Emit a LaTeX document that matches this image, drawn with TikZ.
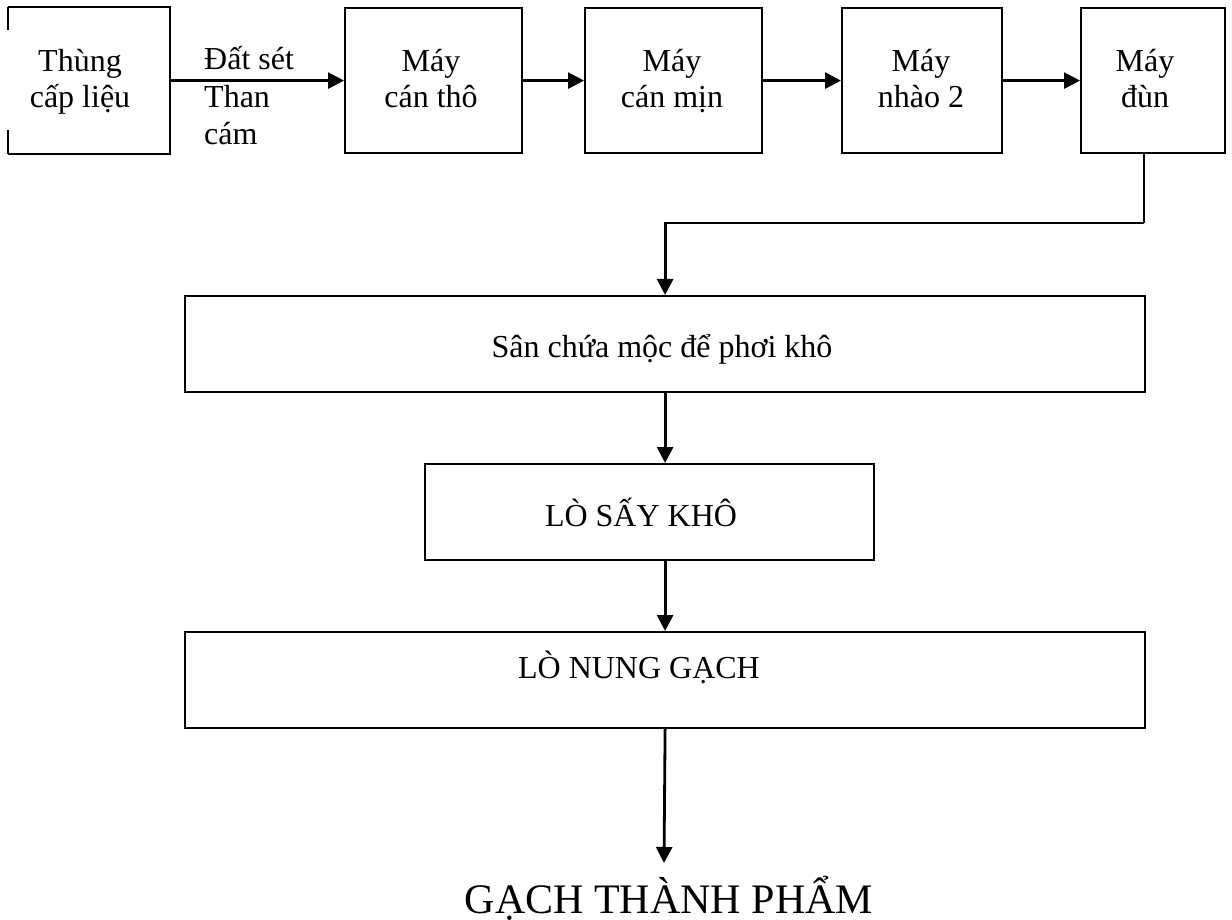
\documentclass[tikz,border=0pt]{standalone}
\usepackage{fontspec}
\setmainfont{Liberation Serif}
\usetikzlibrary{arrows.meta}
\begin{document}
\begin{tikzpicture}[x=1pt,y=-1pt,
  box/.style={draw,line width=2.2pt,inner sep=0pt,anchor=north west},
  txt/.style={inner sep=0pt,anchor=base,align=center,font=\fontsize{32}{36.5}\selectfont},
  flow/.style={line width=2.8pt,-{Triangle[length=16pt,width=16pt]}},
  link/.style={line width=2.2pt}]
\useasboundingbox (0,0) rectangle (1232,920);

% top row of machines (the feed hopper has a broken left side)
\node[box,minimum width=160pt,minimum height=145pt,draw=none] (b1) at (8,7) {};
\draw[link] (b1.north west) -- (b1.north east) -- (b1.south east) -- (b1.south west);
\draw[link] (b1.north west) -- ++(0,23);
\draw[link] (b1.south west) -- ++(0,-24);
\node[box,minimum width=177pt,minimum height=145pt] (b2) at (344,7) {};
\node[box,minimum width=177pt,minimum height=145pt] (b3) at (584,7) {};
\node[box,minimum width=160pt,minimum height=145pt] (b4) at (841,7) {};
\node[box,minimum width=144pt,minimum height=145pt] (b5) at (1080,7) {};

% two-line labels are placed by the baseline of their last line
\node[txt] (t1) at (80,108) {Thùng\\cấp liệu};
\node[txt] (t2) at (431,108) {Máy\\cán thô};
\node[txt] (t3) at (672,108) {Máy\\cán mịn};
\node[txt] (t4) at (921,108) {Máy\\nhào 2};
\node[txt] (t5) at (1145,108) {Máy\\đùn};
\node[txt,align=left,anchor=base west,font=\fontsize{32}{37.5}\selectfont] (mat) at (204,145) {Đất sét\\Than\\cám};

% lower stages
\node[box,minimum width=960pt,minimum height=96pt] (san) at (184,295) {};
\node[box,minimum width=449pt,minimum height=96pt] (say) at (424,463) {};
\node[box,minimum width=960pt,minimum height=96pt] (nung) at (184,631) {};
\node[txt] (tsan) at (662,357) {Sân chứa mộc để phơi khô};
\node[txt] (tsay) at (641,526) {LÒ SẤY KHÔ};
\node[txt] (tnung) at (639,678) {LÒ NUNG GẠCH};
\node[txt,font=\fontsize{42}{48}\selectfont] (sp) at (669,913) {GẠCH THÀNH PHẨM};

% connectors
\coordinate (drop) at (1144,223);
\coordinate (end) at (664,863);
\draw[flow] (b1.east) -- (b2.west);
\draw[flow] (b2.east) -- (b3.west);
\draw[flow] (b3.east) -- (b4.west);
\draw[flow] (b4.east) -- (b5.west);
\draw[link] (b5.south -| drop) -- (drop);
\draw[flow] (drop) -| (san.north);
\draw[flow] (san.south) -- (say.north -| san.south);
\draw[flow] (say.south -| san.south) -- (nung.north);
\draw[flow] (nung.south) -- (end);
\end{tikzpicture}
\end{document}
